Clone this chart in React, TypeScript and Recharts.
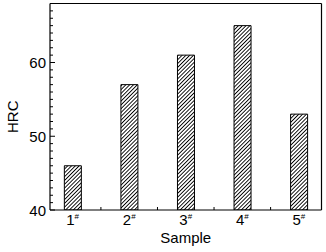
import { BarChart, Bar, XAxis, YAxis, ReferenceLine } from 'recharts';

const samples = [1, 2, 3, 4, 5];
const hrc = [46, 57, 61, 65, 53];
const yTicks = [40, 50, 60];
const yMinorTicks = [41, 42, 43, 44, 45, 46, 47, 48, 49, 51, 52, 53, 54, 55, 56, 57, 58, 59, 61, 62, 63, 64, 65, 66, 67];
const xMinorTicks = [1.5, 2.5, 3.5, 4.5];
const xDomain = [0.6, 5.4];
const yDomain = [40, 68];

const data = samples.map((s, i) => ({ sample: s, hrc: hrc[i] }));

const FONT = '"Liberation Sans", Arial, sans-serif';

const allY = [...yTicks, ...yMinorTicks].sort((a, b) => a - b);
const allX = [...samples, ...xMinorTicks].sort((a, b) => a - b);

// label for majors, short inward line for every tick
const HrcTick = (props: any) => {
  const { x, y, payload } = props;
  const major = yTicks.includes(payload.value);
  return (
    <g>
      <line x1={x} y1={y} x2={x + (major ? 5 : 3)} y2={y} stroke="#000" strokeWidth={1} />
      {major && (
        <text x={x - 4} y={y} textAnchor="end" dominantBaseline="central" fontFamily={FONT} fontSize={15} fill="#000">
          {payload.value}
        </text>
      )}
    </g>
  );
};

const SampleTick = (props: any) => {
  const { x, y, payload } = props;
  if (!samples.includes(payload.value)) {
    return <line x1={x} y1={y} x2={x} y2={y - 3} stroke="#000" strokeWidth={1} />;
  }
  return (
    <text x={x} y={y} dy={15} textAnchor="middle" fontFamily={FONT} fontSize={15} fill="#000">
      {payload.value}
      <tspan fontSize={8} dy={-6}>#</tspan>
    </text>
  );
};

const HrcLabel = (props: any) => {
  const { viewBox } = props;
  const cx = viewBox.x + 12;
  const cy = viewBox.y + viewBox.height / 2 + 10;
  return (
    <text
      x={cx}
      y={cy}
      transform={`rotate(-90, ${cx}, ${cy})`}
      textAnchor="middle"
      dominantBaseline="central"
      fontFamily={FONT}
      fontSize={15}
      fill="#000"
    >
      HRC
    </text>
  );
};

export default function App() {
  return (
    <div style={{ position: 'absolute', left: 0, top: 0, background: '#fff' }}>
      <BarChart width={326} height={252} data={data} margin={{ top: 3.5, right: 4.5, left: 0, bottom: 0 }}>
        <defs>
          <pattern id="hatch" patternUnits="userSpaceOnUse" width={2.7} height={2.7} patternTransform="rotate(45)">
            <rect width={2.7} height={2.7} fill="#fff" />
            <line x1={0} y1={0} x2={0} y2={2.7} stroke="#000" strokeWidth={1.8} />
          </pattern>
        </defs>
        <XAxis
          dataKey="sample"
          type="number"
          domain={xDomain}
          ticks={allX}
          interval={0}
          tick={<SampleTick />}
          tickLine={false}
          tickSize={0}
          tickMargin={0}
          height={42}
          axisLine={{ stroke: '#000', strokeWidth: 1.2 }}
          label={{ value: 'Sample', position: 'insideBottom', offset: 9, fontFamily: FONT, fontSize: 15, fill: '#000' }}
          allowDataOverflow
        />
        <YAxis
          type="number"
          domain={yDomain}
          ticks={allY}
          interval={0}
          width={50}
          tickLine={false}
          tickSize={0}
          tickMargin={0}
          tick={<HrcTick />}
          axisLine={{ stroke: '#000', strokeWidth: 1.2 }}
          label={<HrcLabel />}
          allowDataOverflow
        />
        <ReferenceLine y={yDomain[1]} stroke="#000" strokeWidth={1.2} />
        <ReferenceLine x={xDomain[1]} stroke="#000" strokeWidth={1.2} />
        <Bar dataKey="hrc" barSize={17} fill="url(#hatch)" stroke="#000" strokeWidth={1} isAnimationActive={false} />
      </BarChart>
    </div>
  );
}
